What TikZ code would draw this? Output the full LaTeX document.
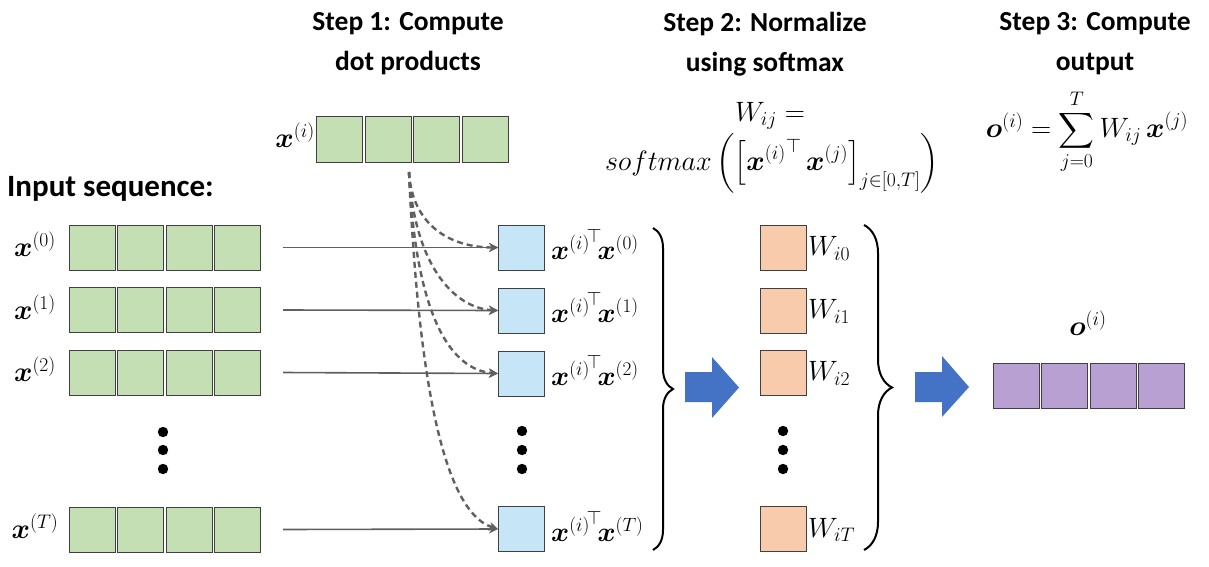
\RequirePackage{fix-cm}
\documentclass[tikz,border=0pt]{standalone}
\usepackage{amsmath,bm}
\usepackage{fontspec}
\setmainfont{Carlito}
\usetikzlibrary{arrows.meta,decorations.pathreplacing}
\definecolor{cgreen}{HTML}{C5DFB4}
\definecolor{cblue}{HTML}{C6E6F8}
\definecolor{corange}{HTML}{F8CBAD}
\definecolor{cpurple}{HTML}{B9A0D2}
\definecolor{cborder}{HTML}{404040}
\definecolor{carrow}{HTML}{4472C4}
\definecolor{cline}{HTML}{606060}
\tikzset{
  cell/.style={draw=cborder, line width=1pt, minimum width=46pt, minimum height=45pt, inner sep=0pt},
  gcell/.style={cell, fill=cgreen},
  bcell/.style={cell, fill=cblue},
  ocell/.style={cell, fill=corange},
  pcell/.style={cell, fill=cpurple},
  title/.style={font=\fontsize{27.5}{40}\selectfont\bfseries, align=center, inner sep=0pt},
  mlabel/.style={font=\fontsize{28}{32}\selectfont, inner sep=0pt},
  plabel/.style={font=\fontsize{27.5}{30}\selectfont, inner sep=0pt},
  feed/.style={draw=cline, line width=1.6pt, -{Stealth[length=9pt,width=9pt]}},
  query/.style={draw=cline, line width=2.4pt, dash pattern=on 6pt off 4pt, -{Stealth[length=9pt,width=9pt]}},
  bracestyle/.style={draw=black, line width=2pt, decorate, decoration={brace, amplitude=#1}},
  blockarrow/.style={fill=carrow},
  dotmark/.style={fill=black}
}
\begin{document}
\begin{tikzpicture}[x=1pt,y=-1pt]
\useasboundingbox (0,0) rectangle (1209,567);

% titles
\node[title] (t1) at (408,44) {Step 1: Compute\\dot products};
\node[title] (t2) at (765,44) {Step 2: Normalize\\using softmax};
\node[title] (t3) at (1095,44) {Step 3: Compute\\output};
\node[font=\fontsize{31}{36}\selectfont\bfseries, anchor=west, inner sep=0pt] (inlab) at (7,189) {Input sequence:};

% query vector
\foreach \c/\x in {0/339.5,1/388,2/436.5,3/485}{
  \node[gcell] (q\c) at (\x,139.5) {};
}
\node[mlabel, anchor=east] (qlab) at (315,135) {$\bm{x}^{(i)}$};
\coordinate (src) at (409,172);

% input rows
\foreach \r/\y in {0/247.5,1/310,2/372.5,T/529.5}{
  \foreach \c/\x in {0/92,1/140.5,2/189,3/237.5}{
    \node[gcell] (in\r-\c) at (\x,\y) {};
  }
  \node[mlabel] (inl\r) at (35,\y-3) {$\bm{x}^{(\r)}$};
}
\foreach \yy in {432,450,469}{ \fill[dotmark] (163,\yy) circle (5.2); }

% dot product boxes
\foreach \r/\y in {0/247.5,1/310.5,2/373.5,T/529}{
  \node[bcell] (b\r) at (521.5,\y) {};
  \node[plabel, anchor=west] (bl\r) at (551,\y-3) {${\bm{x}^{(i)}}^{\!\top}\!\bm{x}^{(\r)}$};
}
\foreach \yy in {431,450,469}{ \fill[dotmark] (522,\yy) circle (5.2); }

% feed arrows
\foreach \r in {0,1,2,T}{
  \draw[feed] ([xshift=22pt]in\r-3.east) -- (b\r.west);
}
% dashed query curves
\draw[query] (src) .. controls (412,225) and (450,247.5) .. (b0.west);
\draw[query] (src) .. controls (414,262) and (452,308) .. (b1.west);
\draw[query] (src) .. controls (416,320) and (452,370) .. (b2.west);
\draw[query] (src) .. controls (420,420) and (452,515) .. (bT.west);

% brace 1
\draw[bracestyle=20pt] (653,228) -- (653,550);
% block arrow 1
\fill[blockarrow] (685,372) -- (712,372) -- (712,357) -- (739,387.5) -- (712,418) -- (712,402) -- (685,402) -- cycle;

% softmax formula
\node[mlabel] (wf1) at (770,116) {$W_{ij}=$};
\node[mlabel] (wf2) at (772,163) {$softmax\left(\left[{\bm{x}^{(i)}}^{\top}\,\bm{x}^{(j)}\right]_{j\in[0,T]}\right)$};

% weights
\foreach \r/\y in {0/247.5,1/310.5,2/372.5,T/529}{
  \node[ocell] (w\r) at (783,\y) {};
  \node[mlabel, anchor=west] (wl\r) at (808,\y+1) {$W_{i\r}$};
}
\foreach \yy in {431,450,469}{ \fill[dotmark] (783,\yy) circle (5.2); }

% brace 2
\draw[bracestyle=28pt] (864,225) -- (864,550);
% block arrow 2
\fill[blockarrow] (915,372) -- (942,372) -- (942,356) -- (969,387) -- (942,417) -- (942,402) -- (915,402) -- cycle;

% output formula
\node[mlabel] (of) at (1087,132) {$\bm{o}^{(i)}=\displaystyle\sum_{j=0}^{T}W_{ij}\,\bm{x}^{(j)}$};

% output vector
\foreach \c/\x in {0/1016,1/1064.5,2/1113,3/1161.5}{
  \node[pcell] (o\c) at (\x,385.5) {};
}
\node[mlabel] (olab) at (1088,323) {$\bm{o}^{(i)}$};
\end{tikzpicture}
\end{document}
